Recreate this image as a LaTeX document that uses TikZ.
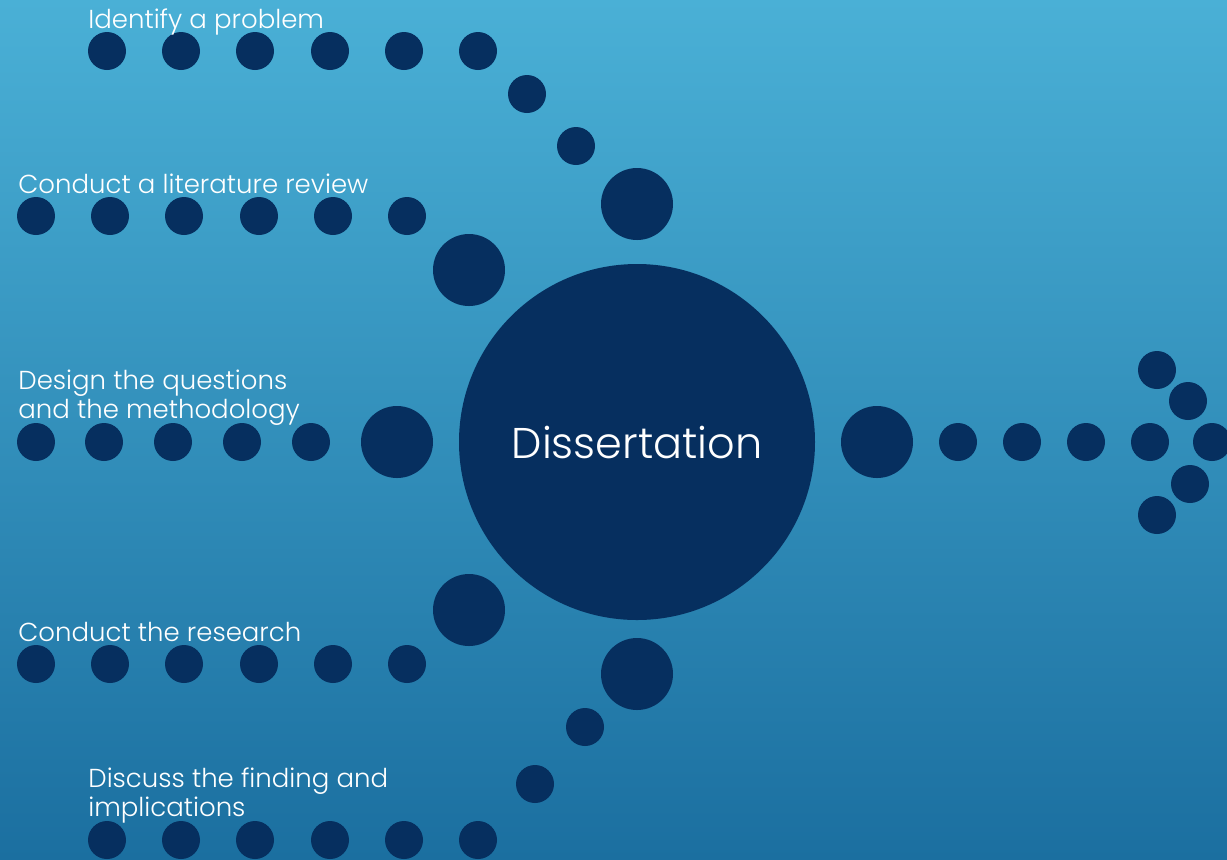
\documentclass[tikz,border=0pt]{standalone}
\usepackage{fontspec}
\setmainfont{Poppins Light}
\usetikzlibrary{positioning}

\definecolor{dotblue}{RGB}{6,47,95}
\definecolor{bgtop}{RGB}{74,176,214}
\definecolor{bgbottom}{RGB}{27,111,160}

\tikzset{
  dot/.style={circle,fill=dotblue,inner sep=0pt,minimum size=19pt},
  bigdot/.style={circle,fill=dotblue,inner sep=0pt,minimum size=36pt},
  steplabel/.style={anchor=base west,text=white,font=\fontsize{13}{14.5}\selectfont,align=left,inner sep=0pt}
}

\begin{document}
\begin{tikzpicture}[x=0.5pt,y=-0.5pt]
    \shade[top color=bgtop,bottom color=bgbottom] (0,0) rectangle (1227,859);
    \useasboundingbox (0,0) rectangle (1227,859);

    % centre
    \node[circle,fill=dotblue,inner sep=0pt,minimum size=178pt,text=white,
          font=\fontsize{21.5}{24}\selectfont] (diss) at (637,442) {Dissertation};

    % identify a problem
    \foreach \x [count=\i] in {107,181,255,330,404,478}
        \node[dot] (a\i) at (\x,51) {};
    \node[dot] (a7) at (527,94) {};
    \node[dot] (a8) at (576,146) {};
    \node[bigdot] (a9) at (637,204) {};
    \node[steplabel] (la) at (88,28) {Identify a problem};

    % literature review
    \foreach \x [count=\i] in {36,110,184,259,333,407}
        \node[dot] (b\i) at (\x,216) {};
    \node[bigdot] (b7) at (469,270) {};
    \node[steplabel] (lb) at (18,193) {Conduct a literature review};

    % questions and methodology
    \foreach \x [count=\i] in {36,104,173,242,311}
        \node[dot] (c\i) at (\x,442) {};
    \node[bigdot] (c6) at (397,442) {};
    \node[steplabel] (lc) at (18,418) {Design the questions\\and the methodology};

    % research
    \foreach \x [count=\i] in {36,110,184,259,333,407}
        \node[dot] (d\i) at (\x,664) {};
    \node[bigdot] (d7) at (469,610) {};
    \node[steplabel] (ld) at (18,641) {Conduct the research};

    % findings
    \foreach \x [count=\i] in {107,181,255,330,404,478}
        \node[dot] (e\i) at (\x,840) {};
    \node[dot] (e7) at (535,784) {};
    \node[dot] (e8) at (585,727) {};
    \node[bigdot] (e9) at (637,674) {};
    \node[steplabel] (le) at (88,816) {Discuss the finding and\\implications};

    % arrow out
    \node[bigdot] (f0) at (877,442) {};
    \foreach \x [count=\i] in {958,1022,1086,1150,1212}
        \node[dot] (f\i) at (\x,442) {};
    \node[dot] (g1) at (1157,370) {};
    \node[dot] (g2) at (1188,401) {};
    \node[dot] (g3) at (1190,484) {};
    \node[dot] (g4) at (1157,515) {};
\end{tikzpicture}
\end{document}
